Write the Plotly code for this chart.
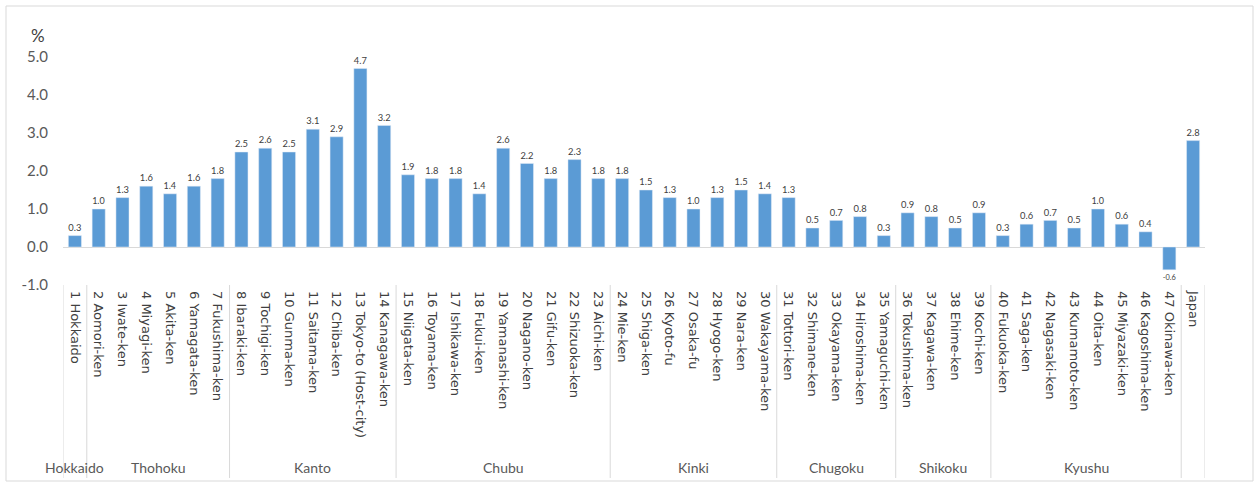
import plotly.graph_objects as go

# Prefecture labels (x axis) and growth rates in %
prefectures = [
    "1 Hokkaido", "2 Aomori-ken", "3 Iwate-ken", "4 Miyagi-ken", "5 Akita-ken",
    "6 Yamagata-ken", "7 Fukushima-ken", "8 Ibaraki-ken", "9 Tochigi-ken",
    "10 Gunma-ken", "11 Saitama-ken", "12 Chiba-ken", "13 Tokyo-to (Host-city)",
    "14 Kanagawa-ken", "15 Niigata-ken", "16 Toyama-ken", "17 Ishikawa-ken",
    "18 Fukui-ken", "19 Yamanashi-ken", "20 Nagano-ken", "21 Gifu-ken",
    "22 Shizuoka-ken", "23 Aichi-ken", "24 Mie-ken", "25 Shiga-ken", "26 Kyoto-fu",
    "27 Osaka-fu", "28 Hyogo-ken", "29 Nara-ken", "30 Wakayama-ken",
    "31 Tottori-ken", "32 Shimane-ken", "33 Okayama-ken", "34 Hiroshima-ken",
    "35 Yamaguchi-ken", "36 Tokushima-ken", "37 Kagawa-ken", "38 Ehime-ken",
    "39 Kochi-ken", "40 Fukuoka-ken", "41 Saga-ken", "42 Nagasaki-ken",
    "43 Kumamoto-ken", "44 Oita-ken", "45 Miyazaki-ken", "46 Kagoshima-ken",
    "47 Okinawa-ken", "Japan",
]
values = [
    0.3, 1.0, 1.3, 1.6, 1.4, 1.6, 1.8,
    2.5, 2.6, 2.5, 3.1, 2.9, 4.7, 3.2,
    1.9, 1.8, 1.8, 1.4, 2.6, 2.2, 1.8, 2.3, 1.8,
    1.8, 1.5, 1.3, 1.0, 1.3, 1.5, 1.4,
    1.3, 0.5, 0.7, 0.8, 0.3,
    0.9, 0.8, 0.5, 0.9,
    0.3, 0.6, 0.7, 0.5, 1.0, 0.6, 0.4, -0.6,
    2.8,
]

# Regions: name and (first index, last index) of their prefectures
regions = ["Hokkaido", "Thohoku", "Kanto", "Chubu", "Kinki", "Chugoku", "Shikoku", "Kyushu"]
region_spans = [(0, 0), (1, 6), (7, 13), (14, 22), (23, 29), (30, 34), (35, 38), (39, 46)]

y_ticks = [-1.0, 0.0, 1.0, 2.0, 3.0, 4.0, 5.0]

FONT = "Lato"
LABEL_FONT = "DejaVu Sans"
BAR = "#5B9BD5"
TEXT = "#404040"
GRID = "#D9D9D9"

x_idx = list(range(len(prefectures)))

fig = go.Figure(
    go.Bar(
        x=x_idx,
        y=values,
        marker_color=BAR,
        text=[f"{v:.1f}" for v in values],
        textposition="outside",
        textangle=0,
        textfont=dict(family=FONT, size=11, color=TEXT),
        cliponaxis=False,
        hoverinfo="x+y",
    )
)

# Plot area geometry in pixels (used for paper coordinates of decorations)
L, R, T, B = 63, 54, 38, 201
W, H = 1259, 486
pw, ph = W - L - R, H - T - B


def px_x(px):
    return (px - L) / pw


def px_y(py):
    return (H - B - py) / ph


shapes = []
# Region separator lines below the axis
bounds = [-0.5] + [s[1] + 0.5 for s in region_spans] + [len(prefectures) - 0.5]
for b in bounds:
    shapes.append(dict(type="line", xref="x", yref="paper", x0=b, x1=b,
                       y0=px_y(285), y1=px_y(478),
                       line=dict(color=GRID, width=1)))
# Outer frame
shapes.append(dict(type="rect", xref="paper", yref="paper",
                   x0=px_x(6), x1=px_x(1253), y0=px_y(481), y1=px_y(6),
                   line=dict(color="#D9D9D9", width=1), fillcolor="rgba(0,0,0,0)", layer="below"))

annotations = []
for name, (a, b) in zip(regions, region_spans):
    annotations.append(dict(x=(a + b) / 2, y=px_y(467), xref="x", yref="paper",
                            text=name, showarrow=False, yanchor="middle",
                            font=dict(family=FONT, size=14, color="#595959")))
annotations.append(dict(x=px_x(38), y=px_y(35), xref="paper", yref="paper",
                        text="%", showarrow=False, xanchor="center", yanchor="middle",
                        font=dict(family=FONT, size=17, color=TEXT)))

fig.update_layout(
    width=W, height=H,
    margin=dict(l=L, r=R, t=T, b=B, pad=0),
    paper_bgcolor="white", plot_bgcolor="white",
    showlegend=False,
    bargap=0.45,
    shapes=shapes,
    annotations=annotations,
    xaxis=dict(
        range=[-0.5, len(prefectures) - 0.5],
        tickmode="array", tickvals=x_idx, ticktext=prefectures,
        tickangle=90, showgrid=False, zeroline=False, showline=False,
        ticks="", ticklen=0,
        tickfont=dict(family=LABEL_FONT, size=13, color=TEXT),
        ticklabelstandoff=5,
    ),
    yaxis=dict(
        range=[-1.0, 5.5],
        tickmode="array", tickvals=y_ticks,
        ticktext=[f"{v:.1f}" for v in y_ticks],
        showgrid=False, zeroline=True, zerolinecolor=GRID, zerolinewidth=1,
        showline=False, ticks="",
        tickfont=dict(family=FONT, size=15, color="#595959"),
        ticklabelstandoff=14,
    ),
)

fig.write_html("out.html")
